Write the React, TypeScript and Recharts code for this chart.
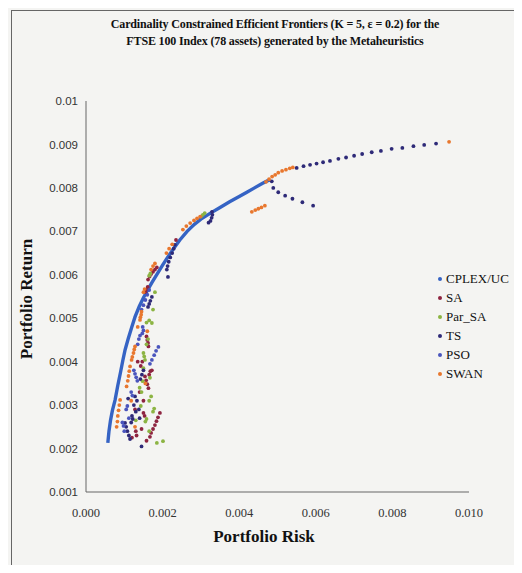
import { ScatterChart, Scatter, XAxis, YAxis } from "recharts";

// [risk, return] pairs
const cplexPoints: [number, number][] = [
  [0.00057, 0.00213], [0.0006, 0.0024], [0.00064, 0.00265], [0.00069, 0.00288],
  [0.00076, 0.00312], [0.00083, 0.00345], [0.0009, 0.00375], [0.00096, 0.00402],
  [0.00102, 0.00427], [0.0011, 0.00452], [0.00119, 0.00478], [0.00128, 0.00503],
  [0.00139, 0.00527], [0.0015, 0.00547], [0.00161, 0.00565], [0.00172, 0.00582],
  [0.00186, 0.00602], [0.002, 0.00622], [0.00213, 0.0064], [0.00227, 0.00658],
  [0.00245, 0.0068], [0.00264, 0.007], [0.00283, 0.00716], [0.003, 0.00728],
  [0.00325, 0.00742], [0.0035, 0.00755], [0.00375, 0.00768], [0.004, 0.0078],
  [0.0042, 0.0079], [0.0044, 0.008], [0.0046, 0.0081], [0.0048, 0.00819],
];

const saPoints: [number, number][] = [
  [0.00162, 0.00589], [0.00166, 0.00596], [0.0017, 0.00602], [0.00175, 0.00607],
  [0.0018, 0.00612], [0.00185, 0.00617], [0.00155, 0.0056], [0.00158, 0.00566],
  [0.00161, 0.00572], [0.00158, 0.00458], [0.0016, 0.0045], [0.00162, 0.00443],
  [0.00163, 0.00435], [0.00154, 0.00366], [0.00157, 0.00357], [0.0016, 0.00348],
  [0.00163, 0.00339], [0.00193, 0.00282], [0.00188, 0.00272], [0.00184, 0.00263],
  [0.0018, 0.00254], [0.00175, 0.00245], [0.0017, 0.00236], [0.00167, 0.00227],
  [0.00135, 0.004], [0.0014, 0.0033], [0.00128, 0.0029], [0.0015, 0.0031],
  [0.0012, 0.00225], [0.00145, 0.00245], [0.00158, 0.00218], [0.00235, 0.0068],
  [0.00143, 0.0039], [0.00147, 0.004], [0.0015, 0.00282], [0.00153, 0.00275],
  [0.00165, 0.0037], [0.00168, 0.00378], [0.00172, 0.0038], [0.00132, 0.0023],
  [0.0013, 0.0024],
];

const parSaPoints: [number, number][] = [
  [0.003, 0.00734], [0.00305, 0.00738], [0.0031, 0.00742], [0.00165, 0.00598],
  [0.00168, 0.00603], [0.00158, 0.0049], [0.00165, 0.00495], [0.00172, 0.00489],
  [0.0015, 0.0042], [0.00152, 0.00412], [0.00154, 0.00404], [0.0015, 0.00385],
  [0.00167, 0.00363], [0.0014, 0.0034], [0.00145, 0.0033], [0.00165, 0.0031],
  [0.0017, 0.0032], [0.00175, 0.00285], [0.00178, 0.00292], [0.00185, 0.00213],
  [0.00201, 0.00217], [0.00165, 0.0024], [0.0013, 0.00265], [0.00158, 0.0044],
  [0.00162, 0.00452], [0.00148, 0.00355], [0.00143, 0.00298], [0.00155, 0.00262],
  [0.00158, 0.00268], [0.00175, 0.0052], [0.0018, 0.0056],
];

const tsPoints: [number, number][] = [
  [0.0055, 0.00846], [0.00568, 0.0085], [0.00585, 0.00853], [0.00602, 0.00856],
  [0.00619, 0.00859], [0.00637, 0.00862], [0.00659, 0.00867], [0.00679, 0.0087],
  [0.007, 0.00874], [0.00721, 0.00878], [0.00746, 0.00882], [0.0077, 0.00885],
  [0.00798, 0.0089], [0.00826, 0.00892], [0.00855, 0.00896], [0.00883, 0.00899],
  [0.00914, 0.00902],
  [0.00485, 0.00815], [0.00489, 0.008], [0.00502, 0.0079], [0.0052, 0.00782],
  [0.00539, 0.00775], [0.00565, 0.00767], [0.00593, 0.00759],
  [0.00329, 0.00745], [0.0033, 0.00738], [0.00328, 0.00731], [0.00325, 0.00724],
  [0.0032, 0.0072],
  [0.00232, 0.00669], [0.00229, 0.0066], [0.00225, 0.0065], [0.0022, 0.0064],
  [0.00216, 0.0063], [0.00213, 0.0062], [0.00211, 0.00612], [0.00214, 0.00595],
  [0.00172, 0.00549], [0.00168, 0.0054], [0.00165, 0.00533], [0.00162, 0.00526],
  [0.00102, 0.00259], [0.00105, 0.0025], [0.00108, 0.0024], [0.00112, 0.0023],
  [0.00115, 0.00222], [0.00125, 0.003], [0.0013, 0.00285], [0.0012, 0.00275],
  [0.00138, 0.0029], [0.00145, 0.00205], [0.0011, 0.00315], [0.0014, 0.0027],
  [0.00118, 0.0026], [0.00122, 0.00268], [0.00133, 0.0031], [0.00128, 0.0032],
  [0.00142, 0.0036], [0.00146, 0.0037], [0.0015, 0.0038],
];

const psoPoints: [number, number][] = [
  [0.00189, 0.00434], [0.00183, 0.00425], [0.00178, 0.00415], [0.00172, 0.00404],
  [0.00167, 0.00395], [0.00165, 0.00565], [0.0016, 0.00554], [0.00155, 0.00542],
  [0.0015, 0.0053], [0.00145, 0.0052], [0.00148, 0.0048], [0.0015, 0.00472],
  [0.00147, 0.00465], [0.00125, 0.0038], [0.00128, 0.00372], [0.00131, 0.00364],
  [0.00134, 0.00356], [0.00118, 0.0033], [0.00121, 0.00322], [0.00095, 0.0026],
  [0.00098, 0.00252], [0.001, 0.0024], [0.00105, 0.0029], [0.00108, 0.00298],
  [0.00112, 0.0027], [0.00135, 0.0044], [0.00138, 0.00452], [0.00141, 0.0046],
];

const swanPoints: [number, number][] = [
  [0.00948, 0.00906],
  [0.0047, 0.00814], [0.00478, 0.0082], [0.00486, 0.00826], [0.00494, 0.0083],
  [0.00502, 0.00835], [0.00512, 0.00839], [0.00522, 0.00842], [0.00532, 0.00845],
  [0.0054, 0.00847],
  [0.00433, 0.00745], [0.00442, 0.00749], [0.0045, 0.00752], [0.00458, 0.00755],
  [0.00467, 0.00759],
  [0.00253, 0.00704], [0.00262, 0.00712], [0.00272, 0.00719], [0.00282, 0.00725],
  [0.0029, 0.0073], [0.00298, 0.00734],
  [0.0021, 0.0065], [0.00217, 0.0066], [0.00225, 0.0067],
  [0.0017, 0.00612], [0.00175, 0.0062], [0.0018, 0.00626],
  [0.0015, 0.0056], [0.00153, 0.00567],
  [0.00145, 0.00515], [0.00144, 0.00508], [0.00142, 0.00502], [0.00141, 0.00496],
  [0.00128, 0.00435], [0.00126, 0.00428], [0.00124, 0.0042], [0.00121, 0.00411],
  [0.00119, 0.00404], [0.00115, 0.00389], [0.00113, 0.00378], [0.00111, 0.00367],
  [0.00109, 0.00356], [0.00106, 0.00343], [0.00089, 0.00312], [0.00087, 0.003],
  [0.00085, 0.00288], [0.00083, 0.00275], [0.00082, 0.00262], [0.0008, 0.0025],
  [0.00135, 0.0048], [0.00118, 0.0031], [0.00128, 0.0025], [0.00155, 0.0035],
  [0.0016, 0.0047],
];

const xTicks = [0, 0.002, 0.004, 0.006, 0.008, 0.01];
const yTicks = [0.001, 0.002, 0.003, 0.004, 0.005, 0.006, 0.007, 0.008, 0.009, 0.01];

const seriesNames = ["CPLEX/UC", "SA", "Par_SA", "TS", "PSO", "SWAN"];
const seriesColors = ["#3563c4", "#8e2440", "#8cb443", "#2e2a78", "#4a55bd", "#e8772e"];

const toXY = (pts: [number, number][]) => pts.map(([x, y]) => ({ x, y }));

const serif = "'Liberation Serif', 'Times New Roman', serif";

const dot = (color: string) => (p: any) =>
  <circle cx={p.cx} cy={p.cy} r={1.9} fill={color} />;

export default function App() {
  const all = [cplexPoints, saPoints, parSaPoints, tsPoints, psoPoints, swanPoints];
  return (
    <div
      style={{
        position: "relative",
        width: 522,
        height: 573,
        margin: -8,
        background: "#f4f4f2",
        overflow: "hidden",
      }}
    >
      <div
        style={{
          position: "absolute",
          left: 11,
          top: 10,
          width: 508,
          height: 580,
          border: "1px solid #666",
        }}
      />
      <div
        style={{
          position: "absolute",
          left: 10,
          top: 16,
          width: 530,
          textAlign: "center",
          fontFamily: serif,
          fontWeight: "bold",
          fontSize: 12,
          lineHeight: "17px",
          letterSpacing: -0.15,
          color: "#111",
        }}
      >
        Cardinality Constrained Efficient Frontiers (K = 5, ε = 0.2) for the
        <br />
        FTSE 100 Index (78 assets) generated by the Metaheuristics
      </div>
      <ScatterChart
        width={522}
        height={573}
        margin={{ top: 101, right: 53, bottom: 51, left: 0 }}
        style={{ position: "absolute", left: 0, top: 0 }}
      >
        <XAxis
          type="number"
          dataKey="x"
          domain={[0, 0.01]}
          ticks={xTicks}
          tickFormatter={(v: number) => v.toFixed(3)}
          tickLine={false}
          axisLine={{ stroke: "#666" }}
          tick={{ fontFamily: serif, fontSize: 12.5, fill: "#333" }}
          tickMargin={10}
          height={30}
          allowDataOverflow
        />
        <YAxis
          type="number"
          dataKey="y"
          domain={[0.001, 0.01]}
          ticks={yTicks}
          tickFormatter={(v: number) => (v >= 0.0099 ? "0.01" : v.toFixed(3))}
          tickLine={false}
          axisLine={{ stroke: "#666" }}
          tick={{ fontFamily: "'Liberation Sans', Arial, sans-serif", fontSize: 11.5, fill: "#333" }}
          width={86}
          allowDataOverflow
        />
        {all.map((pts, i) =>
          i === 0 ? (
            <Scatter
              key={seriesNames[i]}
              name={seriesNames[i]}
              data={toXY(pts)}
              fill={seriesColors[i]}
              line={{ stroke: seriesColors[0], strokeWidth: 3.4 }}
              lineType="joint"
              shape={() => <g />}
              isAnimationActive={false}
            />
          ) : (
            <Scatter
              key={seriesNames[i]}
              name={seriesNames[i]}
              data={toXY(pts)}
              fill={seriesColors[i]}
              shape={dot(seriesColors[i])}
              isAnimationActive={false}
            />
          )
        )}
      </ScatterChart>
      <div
        style={{
          position: "absolute",
          left: 438,
          top: 269,
          fontFamily: serif,
          fontSize: 13,
          color: "#111",
        }}
      >
        {seriesNames.map((name, i) => (
          <div key={name} style={{ height: 19, display: "flex", alignItems: "center" }}>
            <span
              style={{
                display: "inline-block",
                width: 4,
                height: 4,
                borderRadius: 2,
                background: seriesColors[i],
                marginRight: 4,
              }}
            />
            {name}
          </div>
        ))}
      </div>
      <div
        style={{
          position: "absolute",
          left: 164,
          top: 527,
          width: 200,
          textAlign: "center",
          fontFamily: serif,
          fontWeight: "bold",
          fontSize: 17,
          color: "#111",
        }}
      >
        Portfolio Risk
      </div>
      <div
        style={{
          position: "absolute",
          left: -73,
          top: 289,
          width: 200,
          textAlign: "center",
          fontFamily: serif,
          fontWeight: "bold",
          fontSize: 17,
          color: "#111",
          transform: "rotate(-90deg)",
        }}
      >
        Portfolio Return
      </div>
    </div>
  );
}
